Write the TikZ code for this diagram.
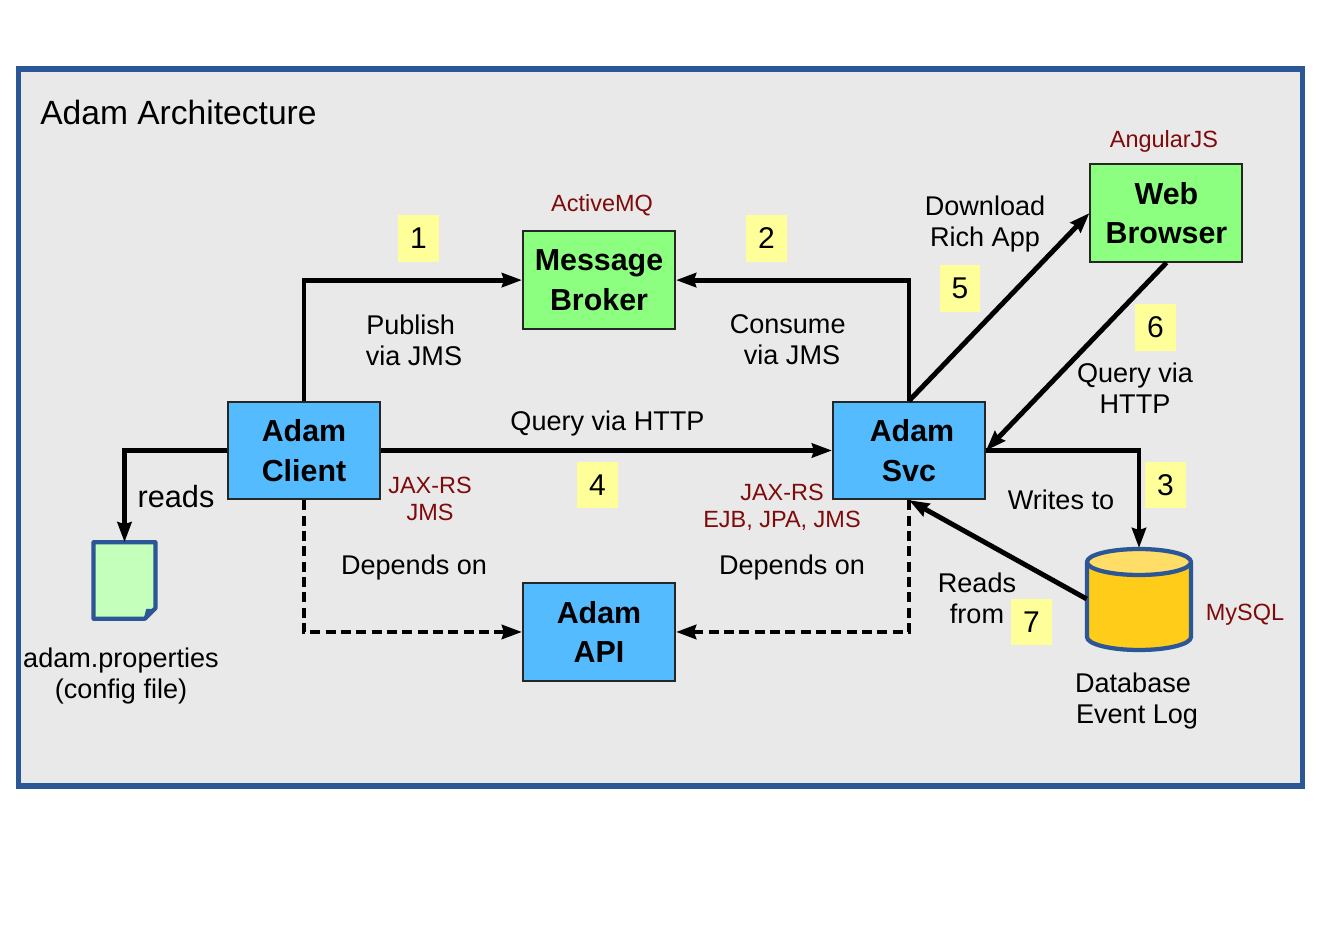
\documentclass[tikz,border=0pt]{standalone}
\usepackage{fontspec}
\setmainfont{Liberation Sans}
\usepackage{xcolor}
\usetikzlibrary{arrows.meta,positioning}
\definecolor{panelgray}{HTML}{E9E9E9}
\definecolor{panelblue}{HTML}{2B5797}
\definecolor{svcblue}{HTML}{55BBFF}
\definecolor{brokergreen}{HTML}{8CFF80}
\definecolor{filegreen}{HTML}{C4FFBC}
\definecolor{tagyellow}{HTML}{FFFF99}
\definecolor{techred}{HTML}{7F0A0A}
\definecolor{dbgold}{HTML}{FFCC1A}
\definecolor{dbtop}{HTML}{FFDD66}

\begin{document}
\begin{tikzpicture}[x=0.75pt,y=-0.75pt,>={Stealth[length=15pt,width=10.5pt,inset=1.5pt]},
  lbl/.style={font=\fontsize{20.3}{23.3}\selectfont,align=center,inner sep=0pt},
  tech/.style={font=\fontsize{17.6}{20.5}\selectfont,text=techred,align=center,inner sep=0pt},
  compbox/.style={draw=black!85,line width=1.5pt,minimum width=114pt,minimum height=73pt,inner sep=0pt,align=center,font=\fontsize{22.8}{29.6}\selectfont\bfseries},
  numtag/.style={fill=tagyellow,minimum width=30.5pt,minimum height=35pt,inner sep=0pt,font=\fontsize{22.5}{26}\selectfont},
  flow/.style={line width=3.7pt,->},
  dep/.style={line width=3.7pt,->,dash pattern=on 7.5pt off 4pt},
  part/.style={draw=panelblue,line width=3.2pt,line join=round}]
\useasboundingbox (0,0) rectangle (1321,934);
\node[draw=panelblue,line width=3.8pt,fill=panelgray,minimum width=963.5pt,minimum height=537.75pt,inner sep=0pt] (panel) at (660.5,427.5) {};
\node[anchor=west,inner sep=0pt,font=\fontsize{25.2}{30}\selectfont] (title) at (40,112) {Adam Architecture};

\node[compbox,fill=svcblue] (client) at (304,450.5) {Adam\\Client};
\node[compbox,fill=svcblue,right=338.25pt of client] (svc) {\kern4.5pt Adam\\Svc};
\node[compbox,fill=brokergreen,above right=53.3pt and 105.75pt of client] (broker) {Message\\Broker};
\node[compbox,fill=svcblue,below right=61.6pt and 105.75pt of client] (api) {Adam\\API};
\node[compbox,fill=brokergreen,above right=103.6pt and 77.6pt of svc] (browser) {Web\\Browser};

\node[minimum width=46pt,minimum height=57pt,inner sep=0pt] (propfile) at (124.5,580.5) {};
\draw[part,fill=filegreen] (propfile.north west) -- (propfile.north east) -- ([yshift=8pt]propfile.south east) -- ([xshift=-8pt]propfile.south east) -- (propfile.south west) -- cycle;
\draw[part,fill=panelblue,line width=1pt] ([xshift=-8pt,yshift=1pt]propfile.south east) -- ([xshift=-6.5pt,yshift=7pt]propfile.south east) -- ([xshift=-1pt,yshift=7pt]propfile.south east) -- cycle;

\node[minimum width=78pt,minimum height=76pt,inner sep=0pt] (db) at (1139,599) {};
\draw[part,fill=dbgold] (1087,562) -- (1087,637) arc[start angle=180,end angle=0,x radius=52,y radius=13] -- (1191,562) -- cycle;
\draw[part,fill=dbtop] (1139,562) ellipse[x radius=52,y radius=13];

\draw[flow] (client.north) |- (broker.west);
\draw[flow] (svc.north) |- (broker.east);
\draw[flow] (client) -- (svc);
\draw[flow] (client.west) -| (propfile.north);
\draw[flow] (svc.east) -| (db.north);
\draw[flow] (db.west) -- (svc.south);
\draw[flow] (svc.north) -- (browser.west);
\draw[flow] (browser.south) -- (svc.east);
\draw[dep] (client.south) |- (api.west);
\draw[dep] (svc.south) |- (api.east);

\node[numtag] (n1) at (418.5,238.5) {1};
\node[numtag] (n2) at (766.5,238.5) {2};
\node[numtag] (n3) at (1165.5,485) {3};
\node[numtag] (n4) at (597.5,485) {4};
\node[numtag] (n5) at (960,288.5) {5};
\node[numtag] (n6) at (1155.5,327.5) {6};
\node[numtag] (n7) at (1031.5,622) {7};

\node[lbl] (publish) at (414,340) {Publish\kern5pt\\via JMS};
\node[lbl] (consume) at (792,340) {Consume\kern6.5pt\\via JMS};
\node[lbl] (queryhttp) at (607.5,424) {Query via HTTP};
\node[lbl] (dependl) at (414,567) {Depends on};
\node[lbl] (dependr) at (792,567) {Depends on};
\node[lbl,font=\fontsize{23}{26}\selectfont] (reads) at (176,497) {reads};
\node[lbl] (propname) at (121,676) {adam.properties\\(config file)};
\node[lbl] (download) at (985,224) {Download\\Rich App};
\node[lbl] (querybr) at (1135,388) {Query via\\HTTP};
\node[lbl] (writes) at (1061,500) {Writes to};
\node[lbl] (readsfrom) at (977,598) {Reads\\from};
\node[lbl] (dbname) at (1137,701) {Database\kern6pt\\Event Log};

\node[tech] (activemq) at (602,205) {ActiveMQ};
\node[tech] (angular) at (1164,141) {AngularJS};
\node[tech] (mysql) at (1245,615) {MySQL};
\node[tech] (jaxclient) at (430,499) {JAX-RS\\JMS};
\node[tech] (jaxsvc) at (782,507) {JAX-RS\\EJB, JPA, JMS};
\end{tikzpicture}
\end{document}
